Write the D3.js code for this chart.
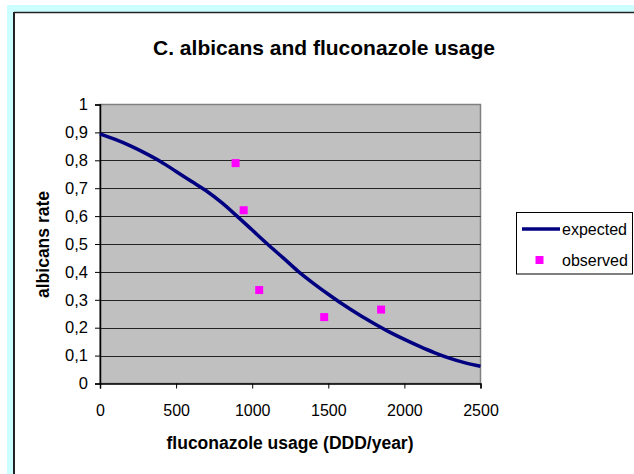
<!DOCTYPE html>
<html><head><meta charset="utf-8">
<script src="https://cdn.jsdelivr.net/npm/d3@7"></script>
<style>
html,body{margin:0;padding:0;background:#fff;}
svg{display:block;font-family:"Liberation Sans",Arial,sans-serif;}
</style></head>
<body>
<script>
const title = "C. albicans and fluconazole usage";
const xTitle = "fluconazole usage (DDD/year)";
const yTitle = "albicans rate";
const seriesNames = ["expected", "observed"];
const xTicks = [0, 500, 1000, 1500, 2000, 2500];
const yTicks = [0, 0.1, 0.2, 0.3, 0.4, 0.5, 0.6, 0.7, 0.8, 0.9, 1];
const yTickLabels = ["0", "0,1", "0,2", "0,3", "0,4", "0,5", "0,6", "0,7", "0,8", "0,9", "1"];
const expectedX = [0,100,200,300,400,500,600,700,800,900,1000,1100,1200,1300,1400,1500,1600,1700,1800,1900,2000,2100,2200,2300,2400,2500];
const expectedY = [0.895,0.875,0.852,0.825,0.795,0.76,0.725,0.69,0.648,0.60,0.55,0.50,0.452,0.403,0.36,0.32,0.282,0.247,0.215,0.185,0.158,0.133,0.11,0.09,0.074,0.062];
const observedX = [891, 944, 1046, 1473, 1847];
const observedY = [0.79, 0.621, 0.335, 0.238, 0.265];

const W = 634, H = 474;
const svg = d3.select("body").append("svg").attr("width", W).attr("height", H);

// outer frame
svg.append("rect").attr("x", 7).attr("y", 5).attr("width", W - 7).attr("height", H - 5).attr("fill", "#ccffff");
svg.append("rect").attr("x", 14).attr("y", 12.5).attr("width", W - 14).attr("height", H - 12.5).attr("fill", "#fff");
svg.append("line").attr("x1", 14).attr("x2", W).attr("y1", 12.5).attr("y2", 12.5).attr("stroke", "#222").attr("stroke-width", 1.5);
svg.append("line").attr("x1", 14).attr("x2", 14).attr("y1", 12).attr("y2", H).attr("stroke", "#222").attr("stroke-width", 2);

const pLeft = 100, pRight = 480.5, pTop = 104.5, pBottom = 383.5;
const x = d3.scaleLinear().domain([0, 2500]).range([pLeft, pRight]);
const y = d3.scaleLinear().domain([0, 1]).range([pBottom, pTop]);

// plot area
svg.append("rect").attr("x", pLeft).attr("y", pTop).attr("width", pRight - pLeft).attr("height", pBottom - pTop)
  .attr("fill", "#c0c0c0").attr("stroke", "#808080").attr("stroke-width", 1.5);

// gridlines
svg.append("g").selectAll("line").data(yTicks.filter(d => d > 0 && d < 1)).join("line")
  .attr("x1", pLeft).attr("x2", pRight).attr("y1", d => Math.round(y(d)) + 0.5).attr("y2", d => Math.round(y(d)) + 0.5)
  .attr("stroke", "#222").attr("stroke-width", 1.2);

// axes
const yAxis = d3.axisLeft(y).tickValues(yTicks).tickFormat((d, i) => yTickLabels[i]).tickSize(5).tickPadding(7);
const gy = svg.append("g").attr("transform", `translate(${pLeft},0)`).call(yAxis);
gy.select(".domain").attr("stroke", "#000").attr("stroke-width", 1.5);
gy.selectAll(".tick line").attr("stroke", "#000");
gy.selectAll("text").attr("font-size", 16.5).attr("fill", "#000").attr("font-family", "Liberation Sans, Arial, sans-serif");

const xAxis = d3.axisBottom(x).tickValues(xTicks).tickFormat(d3.format("d")).tickSize(5).tickPadding(16);
const gx = svg.append("g").attr("transform", `translate(0,${pBottom})`).call(xAxis);
gx.select(".domain").attr("stroke", "#000").attr("stroke-width", 1.5);
gx.selectAll(".tick line").attr("stroke", "#000");
gx.selectAll("text").attr("font-size", 16).attr("fill", "#000").attr("font-family", "Liberation Sans, Arial, sans-serif");

// expected line
const line = d3.line().x((d, i) => x(expectedX[i])).y(d => y(d)).curve(d3.curveMonotoneX);
svg.append("path").datum(expectedY).attr("d", line).attr("fill", "none")
  .attr("stroke", "#000080").attr("stroke-width", 3.5).attr("stroke-linejoin", "round");

// observed points
svg.append("g").selectAll("rect").data(observedY).join("rect")
  .attr("x", (d, i) => x(observedX[i]) - 4).attr("y", d => y(d) - 4)
  .attr("width", 8).attr("height", 8).attr("fill", "#ff00ff");

// titles
svg.append("text").attr("x", 324).attr("y", 55).attr("text-anchor", "middle")
  .attr("font-size", 21).attr("font-weight", "bold").text(title);
svg.append("text").attr("x", 290).attr("y", 449).attr("text-anchor", "middle")
  .attr("font-size", 17.5).attr("font-weight", "bold").text(xTitle);
svg.append("text").attr("transform", "translate(49,244.5) rotate(-90)").attr("text-anchor", "middle")
  .attr("font-size", 17.5).attr("font-weight", "bold").text(yTitle);

// legend
const lg = svg.append("g");
lg.append("rect").attr("x", 516.5).attr("y", 212.5).attr("width", 116).attr("height", 61.5)
  .attr("fill", "#fff").attr("stroke", "#000").attr("stroke-width", 1);
lg.append("line").attr("x1", 522).attr("x2", 560).attr("y1", 229).attr("y2", 229)
  .attr("stroke", "#000080").attr("stroke-width", 3.5);
lg.append("rect").attr("x", 535.5).attr("y", 256).attr("width", 8).attr("height", 8).attr("fill", "#ff00ff");
lg.append("text").attr("x", 562).attr("y", 234.5).attr("font-size", 16).text(seriesNames[0]);
lg.append("text").attr("x", 562).attr("y", 265.5).attr("font-size", 16).text(seriesNames[1]);
</script>
</body></html>
